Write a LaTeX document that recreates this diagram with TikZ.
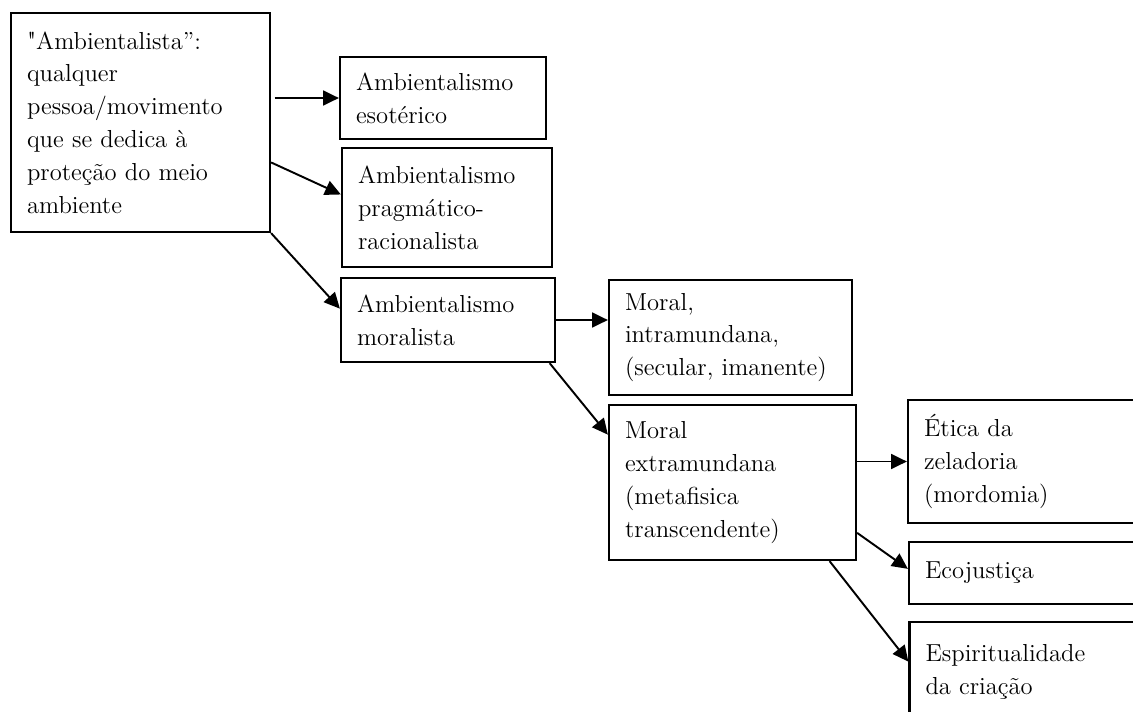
\documentclass[tikz,border=0pt]{standalone}
\usetikzlibrary{arrows.meta}
% straight double quote (no tex-text mapping)
\font\straightq="[lmroman10-regular]" at 14pt
\begin{document}
\begin{tikzpicture}[x=0.02cm, y=-0.02cm,
    box/.style={draw, line width=1.3pt, align=left, inner xsep=0.32cm, font=\fontsize{14}{18.7}\selectfont},
    arr/.style={-{Triangle[length=9pt,width=8.5pt]}, line width=1.1pt}]
    % Page frame
    \useasboundingbox[fill=white] (0,0) rectangle (1133,711);
    \clip (0,0) rectangle (1133,711);

    % First column
    \node[box, minimum width=5.18cm, minimum height=4.38cm, text width=4.54cm] (root) at (140.5,122.5)
        {{\straightq"}Ambientalista”:\\ qualquer\\ pessoa/movimento\\ que se dedica à\\ proteção do meio\\ ambiente};

    % Second column
    \node[box, minimum width=4.12cm, minimum height=1.64cm, text width=3.48cm] (eso) at (443,98)
        {Ambientalismo\\ esotérico};
    \node[box, minimum width=4.2cm, minimum height=2.38cm, text width=3.56cm] (prag) at (447,207.5)
        {Ambientalismo\\ pragmático-\\ racionalista};
    \node[box, minimum width=4.28cm, minimum height=1.68cm, text width=3.64cm] (moral) at (448,320)
        {Ambientalismo\\ moralista};

    % Third column
    \node[box, minimum width=4.86cm, minimum height=2.3cm, text width=4.22cm] (intra) at (730.5,337.5)
        {Moral,\\ intramundana,\\ (secular, imanente)};
    \node[box, minimum width=4.94cm, minimum height=3.1cm, text width=4.3cm] (ext) at (732.5,482.5)
        {Moral\\ extramundana\\ (metafisica\\ transcendente)};

    % Fourth column (cut by the page edge)
    \node[box, minimum width=4.74cm, minimum height=2.46cm, text width=4.1cm] (etica) at (1026.5,461.5)
        {Ética da\\ zeladoria\\ (mordomia)};
    \node[box, minimum width=4.72cm, minimum height=1.24cm, text width=4.08cm] (eco) at (1027,573)
        {Ecojustiça};
    \node[box, minimum width=4.7cm, minimum height=2cm, text width=4.06cm] (esp) at (1027,672)
        {Espiritualidade\\ da criação};

    % Arrows
    \draw[arr, shorten <=2pt] (root.east |- eso.west) -- (eso.west);
    \draw[arr] (root.-17.4) -- (prag.173);
    \draw[arr] (root.south east) -- (moral.174);
    \draw[arr] (moral.east) -- (intra.west |- moral.east);
    \draw[arr] (moral.-23.4) -- (ext.159.5);
    \draw[arr] (ext.east |- etica.west) -- (etica.west);
    \draw[arr] (ext.-22.2) -- (eco.178.5);
    \draw[arr] (ext.-39.7) -- (esp.175.6);
\end{tikzpicture}
\end{document}
